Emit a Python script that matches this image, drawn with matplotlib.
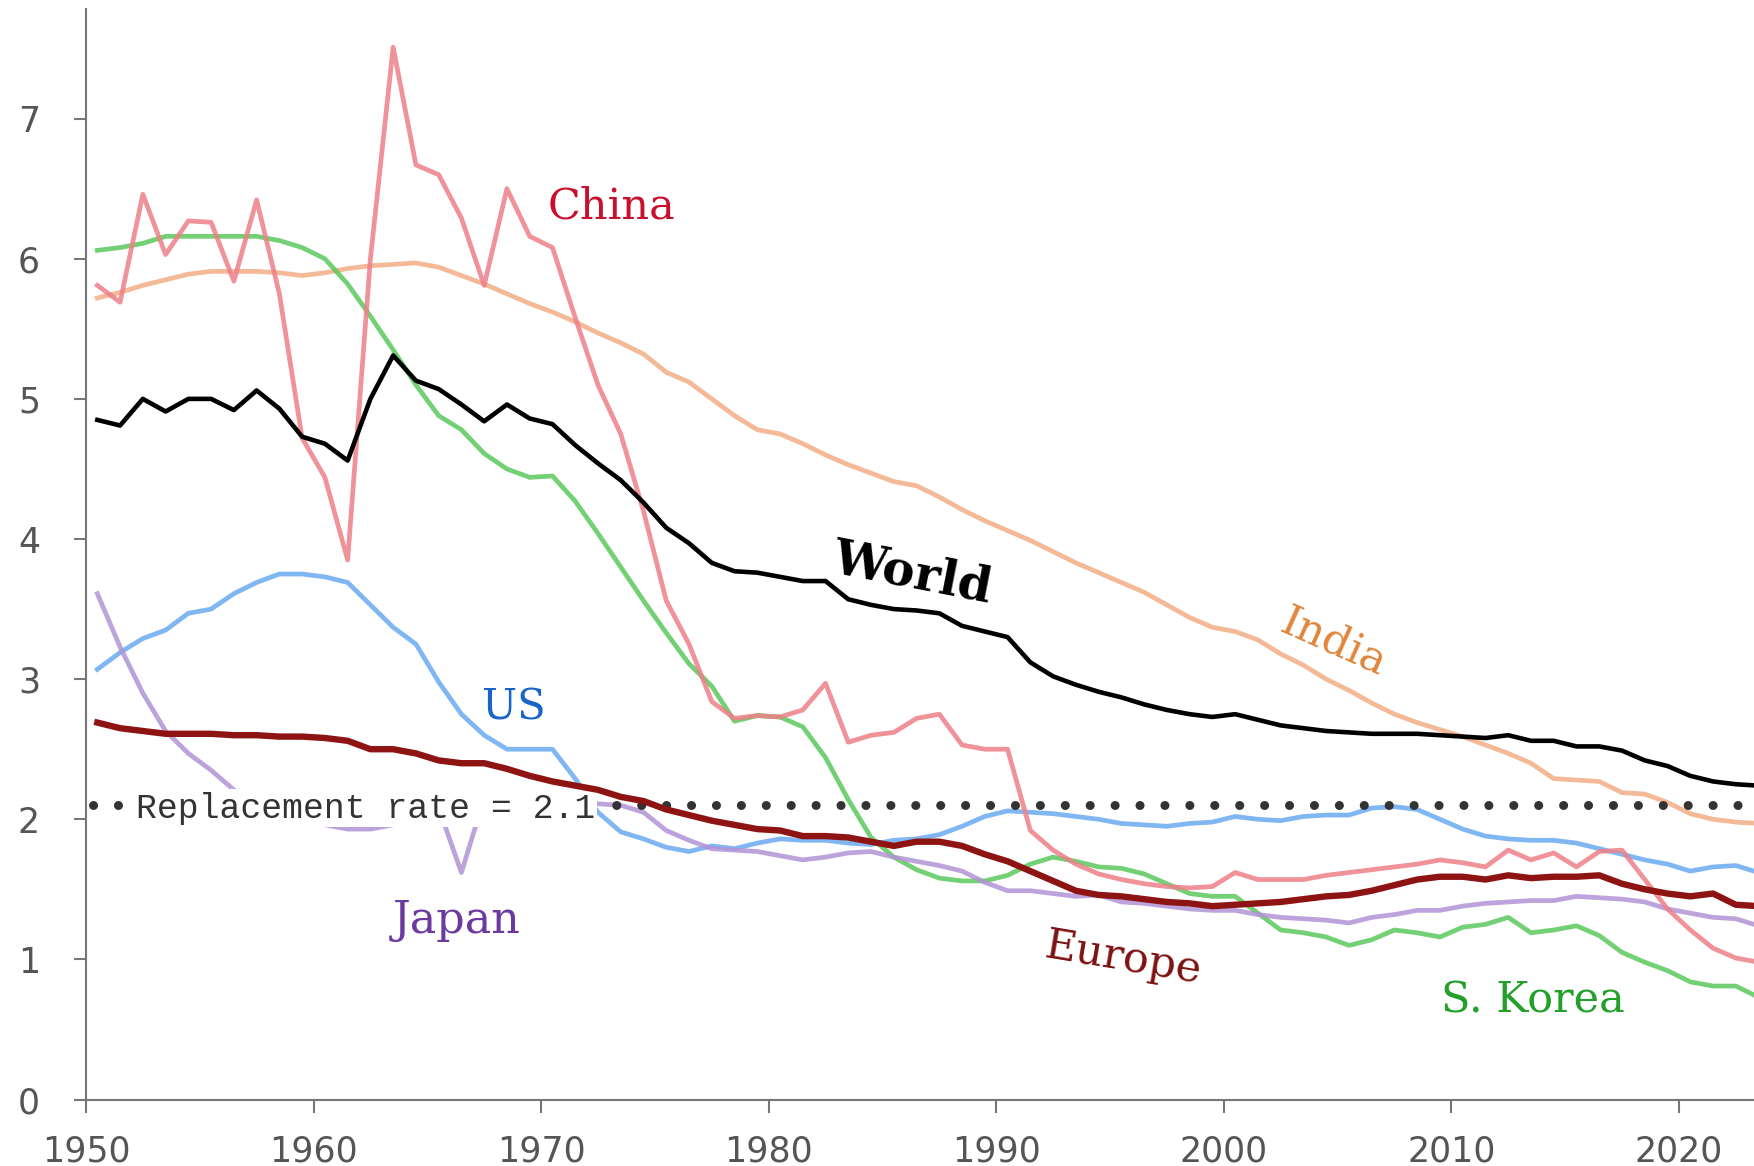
import numpy as np
import matplotlib
matplotlib.use('Agg')
import matplotlib.pyplot as plt

years = np.arange(1950, 2024)

world = [4.85, 4.81, 5.00, 4.91, 5.00, 5.00, 4.92, 5.06, 4.93, 4.73,
         4.68, 4.56, 5.00, 5.31, 5.13, 5.07, 4.96, 4.84, 4.96, 4.86,
         4.82, 4.67, 4.54, 4.42, 4.26, 4.08, 3.97, 3.83, 3.77, 3.76,
         3.73, 3.70, 3.70, 3.57, 3.53, 3.50, 3.49, 3.47, 3.38, 3.34,
         3.30, 3.12, 3.02, 2.96, 2.91, 2.87, 2.82, 2.78, 2.75, 2.73,
         2.75, 2.71, 2.67, 2.65, 2.63, 2.62, 2.61, 2.61, 2.61, 2.60,
         2.59, 2.58, 2.60, 2.56, 2.56, 2.52, 2.52, 2.49, 2.42, 2.38,
         2.31, 2.27, 2.25, 2.24]

china = [5.81, 5.69, 6.46, 6.03, 6.27, 6.26, 5.84, 6.42, 5.75, 4.72,
         4.44, 3.85, 6.00, 7.51, 6.67, 6.60, 6.29, 5.81, 6.50, 6.16,
         6.08, 5.58, 5.10, 4.75, 4.20, 3.56, 3.25, 2.84, 2.72, 2.74,
         2.73, 2.78, 2.97, 2.55, 2.60, 2.62, 2.72, 2.75, 2.53, 2.50,
         2.50, 1.92, 1.78, 1.68, 1.61, 1.57, 1.54, 1.52, 1.51, 1.52,
         1.62, 1.57, 1.57, 1.57, 1.60, 1.62, 1.64, 1.66, 1.68, 1.71,
         1.69, 1.66, 1.78, 1.71, 1.76, 1.66, 1.77, 1.78, 1.57, 1.36,
         1.21, 1.08, 1.01, 0.98]

india = [5.72, 5.76, 5.81, 5.85, 5.89, 5.91, 5.91, 5.91, 5.90, 5.88,
         5.90, 5.93, 5.95, 5.96, 5.97, 5.94, 5.88, 5.82, 5.75, 5.68,
         5.62, 5.55, 5.47, 5.40, 5.32, 5.19, 5.12, 5.00, 4.88, 4.78,
         4.75, 4.68, 4.60, 4.53, 4.47, 4.41, 4.38, 4.30, 4.21, 4.13,
         4.06, 3.99, 3.91, 3.83, 3.76, 3.69, 3.62, 3.53, 3.44, 3.37,
         3.34, 3.28, 3.18, 3.10, 3.00, 2.92, 2.83, 2.75, 2.69, 2.64,
         2.59, 2.53, 2.47, 2.40, 2.29, 2.28, 2.27, 2.19, 2.18, 2.12,
         2.04, 2.00, 1.98, 1.97]

s_korea = [6.06, 6.08, 6.11, 6.16, 6.16, 6.16, 6.16, 6.16, 6.13, 6.08,
           6.00, 5.82, 5.59, 5.35, 5.10, 4.88, 4.78, 4.61, 4.50, 4.44,
           4.45, 4.27, 4.04, 3.80, 3.56, 3.33, 3.11, 2.95, 2.70, 2.74,
           2.73, 2.66, 2.44, 2.14, 1.87, 1.73, 1.64, 1.58, 1.56, 1.56,
           1.60, 1.68, 1.73, 1.70, 1.66, 1.65, 1.61, 1.54, 1.47, 1.45,
           1.45, 1.33, 1.21, 1.19, 1.16, 1.10, 1.14, 1.21, 1.19, 1.16,
           1.23, 1.25, 1.30, 1.19, 1.21, 1.24, 1.17, 1.05, 0.98, 0.92,
           0.84, 0.81, 0.81, 0.73]

us = [3.07, 3.19, 3.29, 3.35, 3.47, 3.50, 3.61, 3.69, 3.75, 3.75,
      3.73, 3.69, 3.53, 3.37, 3.25, 2.98, 2.75, 2.60, 2.50, 2.50,
      2.50, 2.29, 2.05, 1.91, 1.86, 1.80, 1.77, 1.81, 1.79, 1.83,
      1.86, 1.85, 1.85, 1.83, 1.82, 1.85, 1.86, 1.89, 1.95, 2.02,
      2.06, 2.05, 2.04, 2.02, 2.00, 1.97, 1.96, 1.95, 1.97, 1.98,
      2.02, 2.00, 1.99, 2.02, 2.03, 2.03, 2.08, 2.09, 2.07, 2.00,
      1.93, 1.88, 1.86, 1.85, 1.85, 1.83, 1.79, 1.75, 1.71, 1.68,
      1.63, 1.66, 1.67, 1.62]

japan = [3.61, 3.23, 2.90, 2.63, 2.47, 2.35, 2.21, 2.08, 2.05, 2.00,
         1.96, 1.93, 1.93, 1.96, 2.02, 2.08, 1.62, 2.15, 2.10, 2.10,
         2.10, 2.12, 2.11, 2.10, 2.05, 1.92, 1.85, 1.79, 1.78, 1.77,
         1.74, 1.71, 1.73, 1.76, 1.77, 1.73, 1.70, 1.67, 1.63, 1.55,
         1.49, 1.49, 1.47, 1.45, 1.46, 1.41, 1.40, 1.38, 1.36, 1.35,
         1.35, 1.32, 1.30, 1.29, 1.28, 1.26, 1.30, 1.32, 1.35, 1.35,
         1.38, 1.40, 1.41, 1.42, 1.42, 1.45, 1.44, 1.43, 1.41, 1.36,
         1.33, 1.30, 1.29, 1.24]

europe = [2.69, 2.65, 2.63, 2.61, 2.61, 2.61, 2.60, 2.60, 2.59, 2.59,
          2.58, 2.56, 2.50, 2.50, 2.47, 2.42, 2.40, 2.40, 2.36, 2.31,
          2.27, 2.24, 2.21, 2.16, 2.13, 2.07, 2.03, 1.99, 1.96, 1.93,
          1.92, 1.88, 1.88, 1.87, 1.84, 1.81, 1.84, 1.84, 1.81, 1.75,
          1.70, 1.63, 1.56, 1.49, 1.46, 1.45, 1.43, 1.41, 1.40, 1.38,
          1.39, 1.40, 1.41, 1.43, 1.45, 1.46, 1.49, 1.53, 1.57, 1.59,
          1.59, 1.57, 1.60, 1.58, 1.59, 1.59, 1.60, 1.54, 1.50, 1.47,
          1.45, 1.47, 1.39, 1.38]

replacement = 2.1

# plotted at mid-year
x = years + 0.5

fig = plt.figure(figsize=(17.54, 11.66), dpi=100)
ax = fig.add_axes([0.049, 0.057, 0.951, 0.935])

ax.plot(x, india, color='#f3ad85', lw=3.4, alpha=0.85, zorder=2)
ax.plot(x, s_korea, color='#5cc85c', lw=3.4, alpha=0.85, zorder=2)
ax.plot(x, us, color='#6aaaf0', lw=3.4, alpha=0.85, zorder=2)
ax.plot(x, japan, color='#b293d6', lw=3.4, alpha=0.85, zorder=2)
ax.plot(x, china, color='#ee7f88', lw=3.4, alpha=0.85, zorder=3)
ax.plot(x, europe, color='#8e1414', lw=4.6, zorder=7)
ax.plot(x, world, color='black', lw=3.3, zorder=7)

ax.hlines(replacement, 1950.3, 2023.4, colors='#333333', lw=6.5,
          linestyles=(0, (0.01, 2.75)), capstyle='round', zorder=3)
ax.text(1952.2, replacement - 0.02, 'Replacement rate = ' + str(replacement),
        family='Liberation Mono', fontsize=25, color='#333333',
        ha='left', va='center', zorder=6,
        bbox=dict(facecolor='white', edgecolor='none', pad=1.5))

serif = 'DejaVu Serif'
ax.text(1973.1, 6.29, 'China', family=serif, fontsize=31, color='#c8102e',
        ha='center', va='baseline')
ax.text(1986.3, 3.75, 'World', family=serif, fontsize=35, weight='bold',
        color='black', ha='center', va='center', rotation=-11,
        rotation_mode='anchor')
ax.text(2004.85, 3.26, 'India', family=serif, fontsize=31, color='#e0853a',
        ha='center', va='center', rotation=-24, rotation_mode='anchor')
ax.text(1968.8, 2.71, 'US', family=serif, fontsize=30, color='#1a64c8',
        ha='center', va='baseline')
ax.text(1966.3, 1.19, 'Japan', family=serif, fontsize=32, color='#6a3a9e',
        ha='center', va='baseline')
ax.text(1995.6, 1.01, 'Europe', family=serif, fontsize=31, color='#7d1212',
        ha='center', va='center', rotation=-9.5, rotation_mode='anchor')
ax.text(2013.6, 0.62, 'S. Korea', family=serif, fontsize=31, color='#22a02a',
        ha='center', va='baseline')

ax.set_xlim(1950, 2023.3)
ax.set_ylim(0, 7.78)
ax.set_xticks(range(1950, 2021, 10))
ax.set_yticks(range(0, 8))

for side in ['top', 'right']:
    ax.spines[side].set_visible(False)
for side in ['left', 'bottom']:
    ax.spines[side].set_color('#777777')
    ax.spines[side].set_linewidth(1.5)

ax.tick_params(axis='both', colors='#777777', labelcolor='#555555',
               labelsize=25, length=9, width=1.5)
ax.tick_params(axis='x', pad=16)
ax.tick_params(axis='y', pad=24)

fig.savefig('out.png', dpi=100)
